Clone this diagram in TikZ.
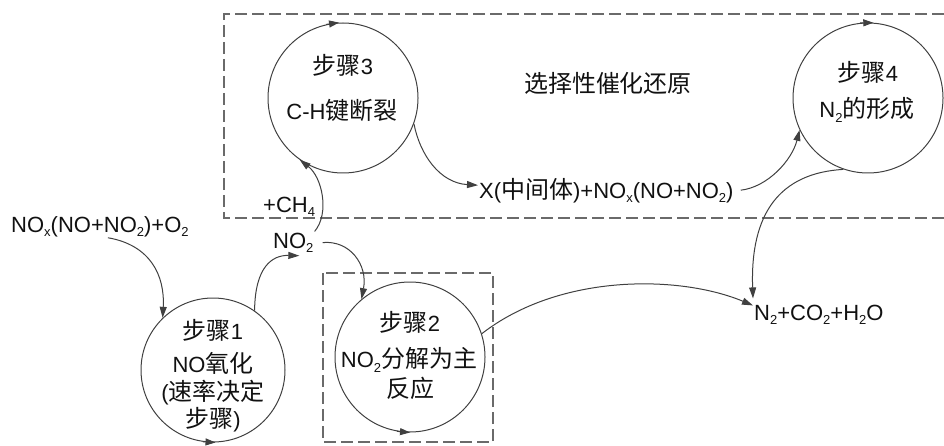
\documentclass[tikz,border=0pt]{standalone}
\usepackage{fontspec}
\setmainfont{Liberation Sans}
\newfontfamily\cjk[Scale=1.09]{Noto Sans CJK SC}
\usetikzlibrary{arrows.meta}
\newcommand\zh[1]{{\cjk #1}}
\newcommand\sbs[1]{\raisebox{-4.5pt}{\fontsize{13}{13}\selectfont #1}}
\definecolor{linecol}{HTML}{404040}
\definecolor{boxcol}{HTML}{6A6A6A}
\definecolor{txtcol}{HTML}{111111}
\tikzset{
  stepcirc/.style={circle, draw=linecol, line width=1pt, inner sep=0pt, minimum size=150pt},
  lbl/.style={inner sep=1pt, text=txtcol},
  conn/.style={draw=linecol, line width=1pt, -{Triangle[length=11pt,width=7pt]}},
  spin/.style={draw=linecol, line width=1pt, -{Triangle[length=10pt,width=7pt]}},
  dbox/.style={draw=boxcol, line width=1.2pt, dash pattern=on 12pt off 5pt},
}
\begin{document}
\begin{tikzpicture}[x=1pt,y=1pt,font=\fontsize{22}{26}\selectfont]
\useasboundingbox (0,0) rectangle (944,445);
% dashed regions
\draw[dbox] (944,431) -- (224,431) -- (224,227) -- (944,227);
\draw[dbox] (323,172) rectangle (493,3);

% step circles
\node[stepcirc, minimum size=144pt] (s1) at (213,75) {};
\node[stepcirc] (s2) at (410,88) {};
\node[stepcirc] (s3) at (343,347) {};
\node[stepcirc] (s4) at (868,347) {};

% circle texts
\node[lbl] (s1a) at (213,115) {\zh{步骤}1};
\node[lbl] (s1b) at (213,82) {NO\zh{氧化}};
\node[lbl] (s1c) at (213,52) {(\zh{速率决定}};
\node[lbl] (s1d) at (213,25) {\zh{步骤})};

\node[lbl] (s2a) at (410,123) {\zh{步骤}2};
\node[lbl] (s2b) at (409,85) {NO\sbs{2}\zh{分解为主}};
\node[lbl] (s2c) at (410,57) {\zh{反应}};

\node[lbl] (s3a) at (343,380) {\zh{步骤}3};
\node[lbl] (s3b) at (342,335) {C-H\zh{键断裂}};

\node[lbl] (s4a) at (868,373) {\zh{步骤}4};
\node[lbl] (s4b) at (867,335) {N\sbs{2}\zh{的形成}};

% free texts
\node[lbl, anchor=base west] (nox) at (10,213) {NO\sbs{x}(NO+NO\sbs{2})+O\sbs{2}};
\node[lbl, anchor=base west] (no2) at (272,197) {NO\sbs{2}};
\node[lbl, anchor=base west] (ch4) at (262,233) {+CH\sbs{4}};
\node[lbl, anchor=base west] (xint) at (478,247) {X(\zh{中间体})+NO\sbs{x}(NO+NO\sbs{2})};
\node[lbl] (scr) at (608,362) {\zh{选择性催化还原}};
\node[lbl, anchor=base west] (prod) at (753,125) {N\sbs{2}+CO\sbs{2}+H\sbs{2}O};

% connectors
\draw[conn] ([xshift=8pt]nox.south) .. controls (150,200) and (165,170) .. (s1.134);
\draw[conn] (s1.55) .. controls (255,178) and (272,190) .. ([xshift=6pt,yshift=-2pt]no2.south);
\draw[conn] (no2.north east) .. controls (330,232) and (322,268) .. (s3.235);
\draw[conn] ([xshift=8pt]no2.east) .. controls (350,205) and (368,180) .. (s2.130);
\draw[conn] (s2.18) .. controls (560,172) and (680,170) .. ([yshift=-2pt]prod.north west);
\draw[conn] (s3.340) .. controls (420,290) and (440,262) .. ([yshift=5pt]xint.west);
\draw[conn] ([xshift=6pt]xint.east) .. controls (768,258) and (792,285) .. (s4.205);
\draw[conn] (s4.251) .. controls (780,272) and (750,232) .. ([yshift=5pt]prod.north west);

% rotation marks on circles
\draw[spin] (s1.262) -- (s1.272);
\draw[spin] (s2.260) -- (s2.270);
\draw[spin] (s3.103) -- (s3.93);
\draw[spin] (s4.96) -- (s4.86);
\end{tikzpicture}
\end{document}
